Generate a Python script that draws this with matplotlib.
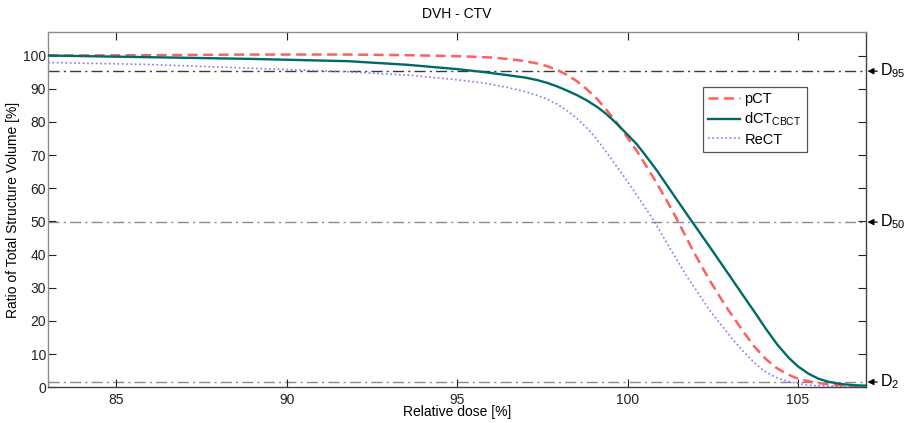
import matplotlib
matplotlib.use("Agg")
import matplotlib.pyplot as plt

plt.rcParams['font.family'] = ['Liberation Sans', 'DejaVu Sans']
plt.rcParams['mathtext.fontset'] = 'custom'
plt.rcParams['mathtext.rm'] = 'Liberation Sans'
plt.rcParams['mathtext.it'] = 'Liberation Sans:italic'
plt.rcParams['mathtext.bf'] = 'Liberation Sans:bold'

# ---- data ----
pct_dose = [83, 86, 88.9, 91.8, 93.6, 95.0, 95.6, 96.0, 96.5, 97.0, 97.35, 97.65, 97.93, 98.2,
            98.51, 98.8, 99.11, 99.4, 99.77, 100.27, 100.76, 101.14, 101.38, 101.93, 102.4,
            102.89, 103.39, 103.71, 104.06, 104.35, 104.64, 104.9, 105.14, 105.5, 105.81,
            106.2, 106.69, 107]
pct_vol = [100.0, 100.1, 100.3, 100.3, 100.1, 99.8, 99.6, 99.4, 98.95, 98.3, 97.6, 96.75, 95.7, 94.3,
           92.3, 89.9, 86.9, 83.4, 78.6, 71.3, 63.2, 56.5, 52.0, 41.0, 32.4,
           24.3, 16.9, 12.4, 8.5, 6.0, 4.2, 3.0, 2.2, 1.4, 1.0,
           0.65, 0.4, 0.3]

dct_dose = [83, 85.96, 88.89, 91.8, 93.56, 95.0, 95.8, 96.47, 97.0, 97.35, 97.65, 97.93, 98.2,
            98.51, 98.8, 99.11, 99.35, 99.6, 99.9, 100.27, 100.55, 100.85, 101.35, 101.82, 102.4,
            102.89, 103.39, 103.8, 104.06, 104.4, 104.73, 105.0, 105.31, 105.6, 105.9, 106.3,
            106.69, 107]
dct_vol = [100.0, 99.5, 99.0, 98.3, 97.2, 95.9, 95.0, 94.1, 93.35, 92.6, 91.75, 90.7, 89.55,
           88.1, 86.5, 84.5, 82.6, 80.3, 77.2, 73.3, 69.6, 65.5, 58.0, 51.0, 42.5,
           35.2, 27.7, 21.6, 17.6, 12.8, 8.9, 6.3, 4.1, 2.6, 1.65, 0.95,
           0.6, 0.5]

rect_dose = [83, 85.96, 88.89, 91.8, 93.56, 95.0, 95.8, 96.47, 97.0, 97.35, 97.65, 97.93, 98.2,
             98.51, 98.9, 99.11, 99.4, 99.89, 100.36, 100.76, 101.24, 101.73, 102.41, 103.09,
             103.4, 103.72, 104.0, 104.35, 104.64, 104.94, 105.2, 105.52, 106.1, 106.69, 107]
rect_vol = [97.9, 97.3, 96.2, 95.1, 94.1, 92.7, 91.7, 90.4, 89.1, 88.0, 86.85, 85.35, 83.6,
            81.1, 77.2, 74.6, 70.6, 63.6, 56.6, 50.4, 42.0, 33.6, 23.2, 14.4,
            10.8, 7.4, 5.0, 3.0, 1.95, 1.25, 0.8, 0.5, 0.3, 0.2, 0.2]

ref_levels = [95.3, 49.8, 1.6]
ref_labels = ['95', '50', '2']
ref_colors = ['#3a3a3a', '#8a8a8a', '#8a8a8a']

xticks = [85, 90, 95, 100, 105]
yticks = [0, 10, 20, 30, 40, 50, 60, 70, 80, 90, 100]

fig = plt.figure(figsize=(9.17, 4.23), dpi=100)
ax = fig.add_axes([0.0525, 0.0844, 0.892, 0.8392])

for lvl, col in zip(ref_levels, ref_colors):
    ax.axhline(lvl, color=col, lw=1.0, ls=(0, (8, 3, 1.5, 3)), zorder=1)

ax.plot(pct_dose, pct_vol, color='#ff5f5f', lw=1.8, ls=(0, (4, 2.2)), label='pCT', zorder=3)
ax.plot(dct_dose, dct_vol, color='#006a66', lw=1.7, ls='-', label=r'dCT$_{\mathregular{CBCT}}$', zorder=4)
ax.plot(rect_dose, rect_vol, color='#9070ff', lw=1.2, ls=(0, (1, 1.6)), label='ReCT', zorder=2)

ax.set_xlim(83, 107)
ax.set_ylim(0, 107)
ax.set_xticks(xticks)
ax.set_yticks(yticks)
ax.tick_params(direction='in', length=5.5, width=0.8, top=True, right=True,
               labelsize=10, colors='#222222', pad=4)
ax.tick_params(axis='y', labelright=False, pad=1.5)
for side in ['left', 'top']:
    ax.spines[side].set_color('#8c8c8c')
for side in ['bottom', 'right']:
    ax.spines[side].set_color('#404040')
for s in ax.spines.values():
    s.set_linewidth(1.0)

ax.set_title('DVH - CTV', fontsize=10, pad=10)
ax.set_xlabel('Relative dose [%]', fontsize=10, labelpad=-1)
ax.set_ylabel('Ratio of Total Structure Volume [%]', fontsize=10, labelpad=2)

leg = ax.legend(loc='upper left', bbox_to_anchor=(0.8005, 0.845), fontsize=10.5,
                fancybox=False, framealpha=1, edgecolor='#555555', handlelength=2.2,
                borderpad=0.35, labelspacing=0.3, handletextpad=0.3, borderaxespad=0)
leg.get_frame().set_linewidth(0.9)

for lvl, lab in zip(ref_levels, ref_labels):
    ax.annotate('D' + r'$_{\mathregular{' + lab + '}}$', xy=(107, lvl), xycoords='data',
                xytext=(10, 0), textcoords='offset points', va='center', ha='left',
                fontsize=11.5, annotation_clip=False,
                arrowprops=dict(arrowstyle='-|>', color='black', lw=0.9,
                                mutation_scale=9, shrinkA=0, shrinkB=1))

fig.savefig('out.png', dpi=100)
